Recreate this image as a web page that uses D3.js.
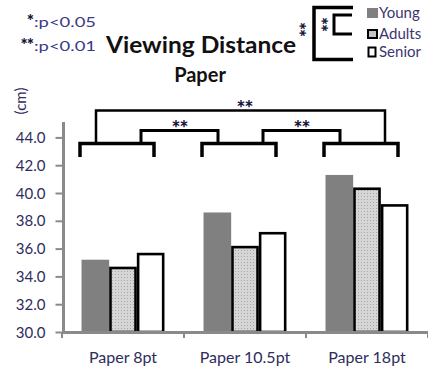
<!DOCTYPE html>
<html><head><meta charset="utf-8">
<script src="https://cdn.jsdelivr.net/npm/d3@7"></script>
<style>html,body{margin:0;padding:0;background:#fff;} svg{display:block;}</style>
</head><body>
<svg id="chart" width="428" height="371"></svg>
<script>
// Viewing distance (cm) for reading on paper, by font size and age group
const categories = ["Paper 8pt", "Paper 10.5pt", "Paper 18pt"];
const groups = ["Young", "Adults", "Senior"];
const young = [35.2, 38.6, 41.3];
const adults = [34.7, 36.2, 40.4];
const senior = [35.7, 37.2, 39.2];
const yTicks = [30, 32, 34, 36, 38, 40, 42, 44];
// pairwise significance between font sizes (indices into categories)
const comparisons = [
  {from: 0, to: 1, label: "**", level: 1},
  {from: 1, to: 2, label: "**", level: 1},
  {from: 0, to: 2, label: "**", level: 2}
];
const notes = [{stars: "*", text: ":p<0.05"}, {stars: "**", text: ":p<0.01"}];

const seriesByGroup = {Young: young, Adults: adults, Senior: senior};
const FONT = "Lato, 'Open Sans', sans-serif";
const TXT = "#2e2c5c";
const STAR = "#15143a";

const svg = d3.select("#chart");

// dotted fill for the middle series
const defs = svg.append("defs");
const pat = defs.append("pattern").attr("id", "dots")
  .attr("patternUnits", "userSpaceOnUse").attr("width", 3).attr("height", 3);
pat.append("rect").attr("width", 3).attr("height", 3).attr("fill", "#d6d6d6");
pat.append("rect").attr("x", 1).attr("y", 1).attr("width", 1).attr("height", 1).attr("fill", "#a6a6a6");

const styles = {
  Young: {fill: "#808080", stroke: "none", sw: 0},
  Adults: {fill: "url(#dots)", stroke: "#000", sw: 2.6},
  Senior: {fill: "#fff", stroke: "#000", sw: 2.6}
};

const x = d3.scaleBand().domain(categories).range([62, 428])
  .paddingInner(0.32).paddingOuter(0.16);
const xi = d3.scaleBand().domain(groups).range([0, x.bandwidth()]);
const y = d3.scaleLinear().domain([30, 45]).range([332, 123.5]);

// bars
const gBars = svg.append("g");
categories.forEach((c, i) => {
  groups.forEach(g => {
    const v = seriesByGroup[g][i];
    const st = styles[g];
    const inset = st.sw / 2;
    gBars.append("rect")
      .attr("x", x(c) + xi(g) + inset)
      .attr("y", y(v) + inset)
      .attr("width", xi.bandwidth() - st.sw)
      .attr("height", y(30) - y(v) - inset)
      .attr("fill", st.fill)
      .attr("stroke", st.stroke)
      .attr("stroke-width", st.sw);
  });
});

// y axis
const yAxis = d3.axisLeft(y).tickValues(yTicks).tickFormat(d3.format(".1f"))
  .tickSize(8).tickPadding(10);
const gy = svg.append("g").attr("transform", "translate(63.5,0)").call(yAxis);
gy.select(".domain").remove();
gy.append("line").attr("x1", 0).attr("x2", 0).attr("y1", y(45) - 1.5).attr("y2", y(30) + 1)
  .attr("stroke", "#8a8a8a").attr("stroke-width", 3);
gy.selectAll(".tick line").attr("stroke", "#8a8a8a").attr("stroke-width", 2);
gy.selectAll(".tick text").attr("fill", TXT).style("font-family", FONT)
  .style("font-size", "15px").attr("dy", "0.34em");

// x axis
const gx = svg.append("g");
gx.append("line").attr("x1", 62).attr("x2", 428).attr("y1", y(30) + 0.5).attr("y2", y(30) + 0.5)
  .attr("stroke", "#8a8a8a").attr("stroke-width", 3);
const bounds = categories.map(c => x(c) - x.step() * x.paddingInner() / 2).concat([428]);
bounds.forEach(b => {
  gx.append("line").attr("x1", b).attr("x2", b).attr("y1", y(30)).attr("y2", y(30) + 6)
    .attr("stroke", "#8a8a8a").attr("stroke-width", 2);
});
gx.selectAll("text.cat").data(categories).join("text").attr("class", "cat")
  .attr("x", c => x(c) + x.bandwidth() / 2).attr("y", 363)
  .attr("text-anchor", "middle").attr("fill", TXT)
  .style("font-family", FONT).style("font-size", "16px").text(c => c);

// unit label
svg.append("text").attr("transform", "translate(26,101) rotate(-90)")
  .attr("text-anchor", "middle").attr("fill", TXT)
  .style("font-family", FONT).style("font-size", "15px").text("(cm)");

// significance brackets
const gSig = svg.append("g").attr("fill", "none").attr("stroke", "#000");
const baseY = 143.5, tickY = 157;
const levelY = {1: 130.5, 2: 110.5};
const bLeft = i => x(categories[i]) + x.bandwidth() / 2 - 6 - 37;
const bRight = i => x(categories[i]) + x.bandwidth() / 2 - 6 + 37;
categories.forEach((c, i) => {
  gSig.append("path")
    .attr("d", `M${bLeft(i)},${tickY} V${baseY} H${bRight(i)} V${tickY}`)
    .attr("stroke-width", 3.5);
});
comparisons.forEach(cmp => {
  const yl = levelY[cmp.level];
  const xa = cmp.level === 1 ? bRight(cmp.from) - 13 : bLeft(cmp.from) + 16;
  const xb = cmp.level === 1 ? bLeft(cmp.to) + 16 : bRight(cmp.to) - 13;
  gSig.append("path").attr("d", `M${xa},${baseY} V${yl} H${xb} V${baseY}`)
    .attr("stroke-width", cmp.level === 1 ? 3 : 2.5);
  svg.append("text").attr("x", (xa + xb) / 2 + (cmp.level === 2 ? 4 : 0)).attr("y", yl + 5)
    .attr("text-anchor", "middle").attr("fill", STAR).attr("letter-spacing", "-1px")
    .style("font-family", FONT).style("font-weight", "900").style("font-size", "21px")
    .text(cmp.label);
});

// p-value notes
notes.forEach((n, i) => {
  const by = 27 + i * 24;
  svg.append("text").attr("x", 33).attr("y", by).attr("text-anchor", "end")
    .attr("fill", STAR).attr("letter-spacing", "-1px")
    .style("font-family", FONT).style("font-weight", "900").style("font-size", "17px")
    .text(n.stars);
  svg.append("text").attr("x", 34).attr("y", by)
    .attr("fill", "#3b3a86").attr("textLength", 62).attr("lengthAdjust", "spacingAndGlyphs")
    .style("font-family", FONT).style("font-size", "14px").text(n.text);
});

// titles
svg.append("text").attr("x", 106).attr("y", 53)
  .attr("fill", "#111").style("font-family", FONT).style("font-weight", "bold")
  .style("font-size", "23px").attr("textLength", 190).attr("lengthAdjust", "spacingAndGlyphs")
  .text("Viewing Distance");
svg.append("text").attr("x", 200).attr("y", 82).attr("text-anchor", "middle")
  .attr("fill", "#111").style("font-family", FONT).style("font-weight", "bold")
  .style("font-size", "20px").text("Paper");

// legend: bracket key
const gKey = svg.append("g").attr("fill", "none").attr("stroke", "#000");
gKey.append("path").attr("d", "M353,7.5 H314 V59.5 H353").attr("stroke-width", 3.5);
gKey.append("path").attr("d", "M352,15 H334 V34 H352").attr("stroke-width", 3);
[[306, 29], [328, 24]].forEach(([kx, ky]) => {
  svg.append("text").attr("transform", `translate(${kx},${ky}) rotate(90)`)
    .attr("text-anchor", "middle").attr("dy", "0.75em").attr("fill", STAR)
    .attr("letter-spacing", "-1px")
    .style("font-family", FONT).style("font-weight", "900").style("font-size", "19px")
    .text("**");
});

// legend: series swatches
const swatch = {
  Young: {x: 367, y: 8, w: 11, h: 10},
  Adults: {x: 368, y: 30, w: 9, h: 8},
  Senior: {x: 368.5, y: 47.5, w: 7, h: 9}
};
const labelY = {Young: 13, Adults: 34, Senior: 52};
groups.forEach(g => {
  const s = swatch[g], st = styles[g];
  svg.append("rect").attr("x", s.x).attr("y", s.y).attr("width", s.w).attr("height", s.h)
    .attr("fill", g === "Adults" ? "#c4c4c4" : st.fill)
    .attr("stroke", st.stroke).attr("stroke-width", st.sw ? 2 : 0);
  svg.append("text").attr("x", 379).attr("y", labelY[g]).attr("dy", "0.35em")
    .attr("fill", "#3b3670").style("font-family", FONT).style("font-size", "15px").text(g);
});
</script>
</body></html>
